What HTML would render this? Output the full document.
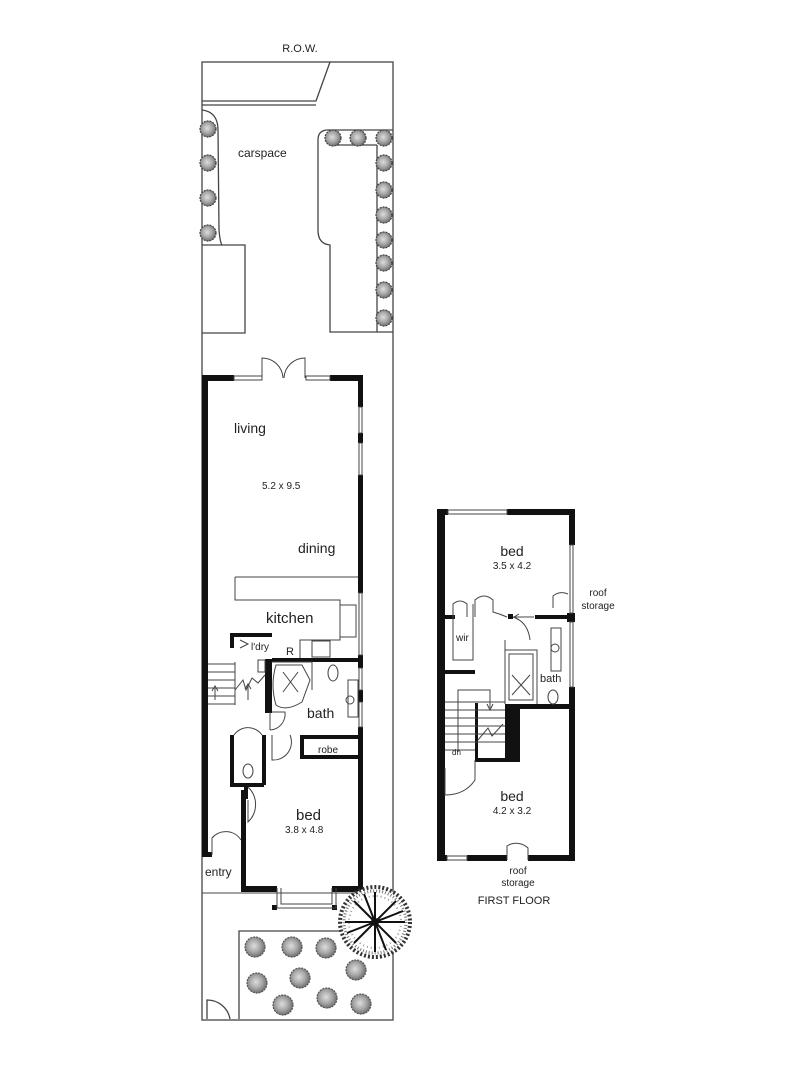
<!DOCTYPE html>
<html><head><meta charset="utf-8"><style>
html,body{margin:0;padding:0;background:#fff;}
svg{display:block;}
text{font-family:"Liberation Sans",Arial,sans-serif;fill:#222;}
</style></head><body>
<svg width="800" height="1066" viewBox="0 0 800 1066" xmlns="http://www.w3.org/2000/svg">
<defs>
<radialGradient id="tg" cx="45%" cy="45%" r="60%"><stop offset="0" stop-color="#ddd"/><stop offset="0.5" stop-color="#aaa"/><stop offset="1" stop-color="#666"/></radialGradient>
<g id="t"><circle r="8" fill="url(#tg)" stroke="#444" stroke-width="1.2" stroke-dasharray="2 1"/></g>
<g id="T"><circle r="10" fill="url(#tg)" stroke="#555" stroke-width="1.2" stroke-dasharray="2 1"/></g>
</defs>

<text x="300" y="52" font-size="11" text-anchor="middle">R.O.W.</text>
<g fill="none" stroke="#444" stroke-width="1.3">
<rect x="202" y="62" width="191" height="958"/>
<path d="M202 101 H316 L330 62"/>
<path d="M202 105 H316"/>
<path d="M202 110 Q218 112 218 130 L219 230 Q220 242 222 245"/>
<path d="M202 245 H245 V333 H202"/>
<path d="M393 130 H328 Q318 130 318 140 V230 Q318 244 330 245 V332 H393"/>
<path d="M377 145 V332 M330 145 H377"/>
<path d="M202 893 H393" stroke-width="1"/>
<path d="M239 1019 V931 H340 Q350 931 360 928"/>
<path d="M207 1019 V1000 A23 23 0 0 1 230 1019"/>
</g>
<text x="238" y="157" font-size="12">carspace</text>
<g>
<use href="#t" x="208" y="129"/><use href="#t" x="208" y="163"/><use href="#t" x="208" y="198"/><use href="#t" x="208" y="233"/>
<use href="#t" x="333" y="138"/><use href="#t" x="358" y="138"/><use href="#t" x="384" y="138"/>
<use href="#t" x="384" y="163"/><use href="#t" x="384" y="190"/><use href="#t" x="384" y="215"/><use href="#t" x="384" y="240"/><use href="#t" x="384" y="263"/><use href="#t" x="384" y="290"/><use href="#t" x="384" y="318"/>
</g>

<g fill="#111">
<rect x="202" y="375" width="6" height="480"/>
<rect x="202" y="375" width="32" height="6"/>
<rect x="330" y="375" width="33" height="6"/>
<rect x="358" y="375" width="5" height="32"/>
<rect x="358" y="433" width="5" height="10"/>
<rect x="358" y="475" width="5" height="118"/>
<rect x="358" y="655" width="5" height="13"/>
<rect x="358" y="690" width="5" height="12"/>
<rect x="358" y="727" width="5" height="165"/>
<rect x="241" y="790" width="5" height="102"/>
<rect x="241" y="886" width="36" height="6"/>
<rect x="332" y="886" width="31" height="6"/>
<rect x="272" y="658" width="90" height="4"/>
<rect x="265" y="659" width="7" height="54"/>
<rect x="300" y="735" width="62" height="4"/>
<rect x="300" y="735" width="4" height="24"/>
<rect x="300" y="755" width="62" height="4"/>
<rect x="230" y="633" width="42" height="4"/>
<rect x="230" y="633" width="4" height="15"/>
<rect x="230" y="735" width="4" height="52"/>
<rect x="230" y="783" width="34" height="4"/>
<rect x="262" y="735" width="4" height="50"/>
<rect x="244" y="787" width="4" height="12"/>
<rect x="202" y="852" width="10" height="5"/>
<rect x="272" y="905" width="5" height="5"/><rect x="332" y="905" width="5" height="5"/>
</g>
<g fill="none" stroke="#444" stroke-width="1">
<rect x="234" y="376" width="28" height="4"/><rect x="306" y="376" width="24" height="4"/>
<rect x="359" y="407" width="3" height="26"/><rect x="359" y="443" width="3" height="32"/>
<rect x="359" y="593" width="3" height="62"/><rect x="359" y="668" width="3" height="22"/><rect x="359" y="702" width="3" height="25"/>
<path d="M277 888 V908 H336 V888 M281 888 V904 H332 V888"/>
<path d="M262 378 V358 A21 21 0 0 1 283 378 M305 378 V358 A21 21 0 0 0 284 378"/>
<path d="M235 577 H358 M235 577 V600 H340 V640 H300 V658"/>
<rect x="340" y="605" width="16" height="32"/>
<rect x="312" y="641" width="18" height="16"/>
<path d="M208 664 H235 M208 672 H235 M208 680 H235 M208 688 H235 M208 696 H235 M208 704 H235 M235 662 V705"/>
<path d="M215 700 V688 M212 691 L215 686 L218 691 M248 700 V686 M245 689 L248 684 L251 689"/>
<path d="M235 690 L243 680 L246 690 L252 678 L258 683 L265 675"/>
<rect x="258" y="660" width="7" height="12"/>
<path d="M240 640 L248 644 L240 648"/>
<path d="M276 665 H302 L310 680 L302 702 Q286 712 276 705 Q270 685 276 665Z"/>
<path d="M283 672 L298 692 M298 672 L283 692"/>
<path d="M272 662 H312 L312 690"/>
<ellipse cx="333" cy="673" rx="5" ry="8"/>
<rect x="348" y="680" width="10" height="37"/>
<circle cx="350" cy="700" r="4"/>
<path d="M272 712 H285 A16 16 0 0 1 270 730 M290 735 A18 18 0 0 1 272 760 V735 M270 730 V712"/>
<ellipse cx="248" cy="771" rx="5" ry="7"/>
<path d="M234 735 A17 17 0 0 1 262 735"/>
<path d="M248 787 A24 24 0 0 1 248 822 V800"/>
<path d="M212 855 V838 A18 18 0 0 1 241 840"/>
</g>
<text x="234" y="433" font-size="14">living</text>
<text x="262" y="489" font-size="10">5.2 x 9.5</text>
<text x="298" y="553" font-size="14">dining</text>
<text x="266" y="623" font-size="15">kitchen</text>
<text x="251" y="650" font-size="10">l'dry</text>
<text x="286" y="655" font-size="11">R</text>
<text x="307" y="718" font-size="14">bath</text>
<text x="318" y="753" font-size="10">robe</text>
<text x="296" y="820" font-size="15">bed</text>
<text x="285" y="833" font-size="10">3.8 x 4.8</text>
<text x="205" y="876" font-size="12">entry</text>

<use href="#T" x="255" y="947"/><use href="#T" x="292" y="947"/><use href="#T" x="326" y="948"/>
<use href="#T" x="356" y="970"/><use href="#T" x="257" y="983"/><use href="#T" x="300" y="978"/>
<use href="#T" x="327" y="998"/><use href="#T" x="283" y="1005"/><use href="#T" x="361" y="1004"/>
<g transform="translate(375 922)">
<circle r="35" fill="#fff" stroke="#333" stroke-width="4" stroke-dasharray="2 2"/>
<circle r="31" fill="none" stroke="#777" stroke-width="3" stroke-dasharray="1 2"/>
<circle r="26" fill="none" stroke="#999" stroke-width="2" stroke-dasharray="1 3"/>
<g stroke="#111" stroke-width="2">
<path d="M0 0 L30 0 M0 0 L-30 0 M0 0 L0 30 M0 0 L0 -30 M0 0 L21 21 M0 0 L-21 21 M0 0 L21 -21 M0 0 L-21 -21 M0 0 L28 -11 M0 0 L-28 11 M0 0 L11 28 M0 0 L-11 -28"/>
</g>
<circle r="4" fill="#111"/>
</g>

<g fill="#111">
<rect x="437" y="509" width="8" height="352"/>
<rect x="437" y="509" width="11" height="6"/>
<rect x="507" y="509" width="68" height="6"/>
<rect x="569" y="509" width="6" height="36"/>
<rect x="567" y="613" width="8" height="9"/>
<rect x="569" y="687" width="6" height="174"/>
<rect x="437" y="855" width="10" height="6"/>
<rect x="467" y="855" width="40" height="6"/>
<rect x="528" y="855" width="47" height="6"/>
<rect x="445" y="615" width="10" height="4"/>
<rect x="535" y="615" width="35" height="4"/>
<rect x="508" y="614" width="5" height="5"/>
<rect x="445" y="670" width="30" height="4"/>
<rect x="505" y="704" width="65" height="5"/>
<rect x="505" y="704" width="15" height="58"/>
<rect x="475" y="758" width="45" height="4"/>
<rect x="475" y="703" width="3" height="57"/>
</g>
<g fill="none" stroke="#444" stroke-width="1">
<rect x="448" y="510" width="59" height="4"/>
<rect x="570" y="545" width="3" height="68"/><rect x="570" y="622" width="3" height="65"/>
<rect x="447" y="856" width="20" height="4"/>
<path d="M507 860 V846 A17 17 0 0 1 528 848 V860"/>
<path d="M553 608 V596 A14 14 0 0 1 568 594"/>
<path d="M534 617 H515 M519 614 L514 617 L519 620"/>
<path d="M453 617 V604 Q460 598 467 604 V617 M453 604 V660 H473 V604"/>
<path d="M475 617 V600 Q484 592 493 600 V612 Q500 614 507 617 M513 617 Q528 622 530 640"/>
<path d="M505 640 V704 M505 650 H537 V704 M509 654 H533 V700 H509Z"/>
<path d="M512 675 L530 695 M530 675 L512 695"/>
<rect x="551" y="628" width="10" height="43"/><circle cx="555" cy="648" r="4"/>
<ellipse cx="553" cy="697" rx="5" ry="7"/>
<path d="M445 702 H505 M445 710 H505 M445 718 H505 M445 726 H505 M445 734 H505 M445 742 H505 M445 750 H475"/>
<path d="M458 752 V690 H490 V708 M487 704 L490 710 L493 704"/>
<path d="M478 740 L488 728 L492 736 L503 724"/>
<path d="M445 768 V795 Q465 795 475 780 V760"/>
</g>
<text x="512" y="556" font-size="14" text-anchor="middle">bed</text>
<text x="512" y="569" font-size="10" text-anchor="middle">3.5 x 4.2</text>
<text x="598" y="596" font-size="10" text-anchor="middle">roof</text>
<text x="598" y="609" font-size="10" text-anchor="middle">storage</text>
<text x="456" y="641" font-size="10">wir</text>
<text x="540" y="682" font-size="11">bath</text>
<text x="452" y="755" font-size="8">dn</text>
<text x="512" y="801" font-size="14" text-anchor="middle">bed</text>
<text x="512" y="814" font-size="10" text-anchor="middle">4.2 x 3.2</text>
<text x="518" y="874" font-size="10" text-anchor="middle">roof</text>
<text x="518" y="886" font-size="10" text-anchor="middle">storage</text>
<text x="514" y="904" font-size="11" text-anchor="middle">FIRST FLOOR</text>
</svg>
</body></html>
